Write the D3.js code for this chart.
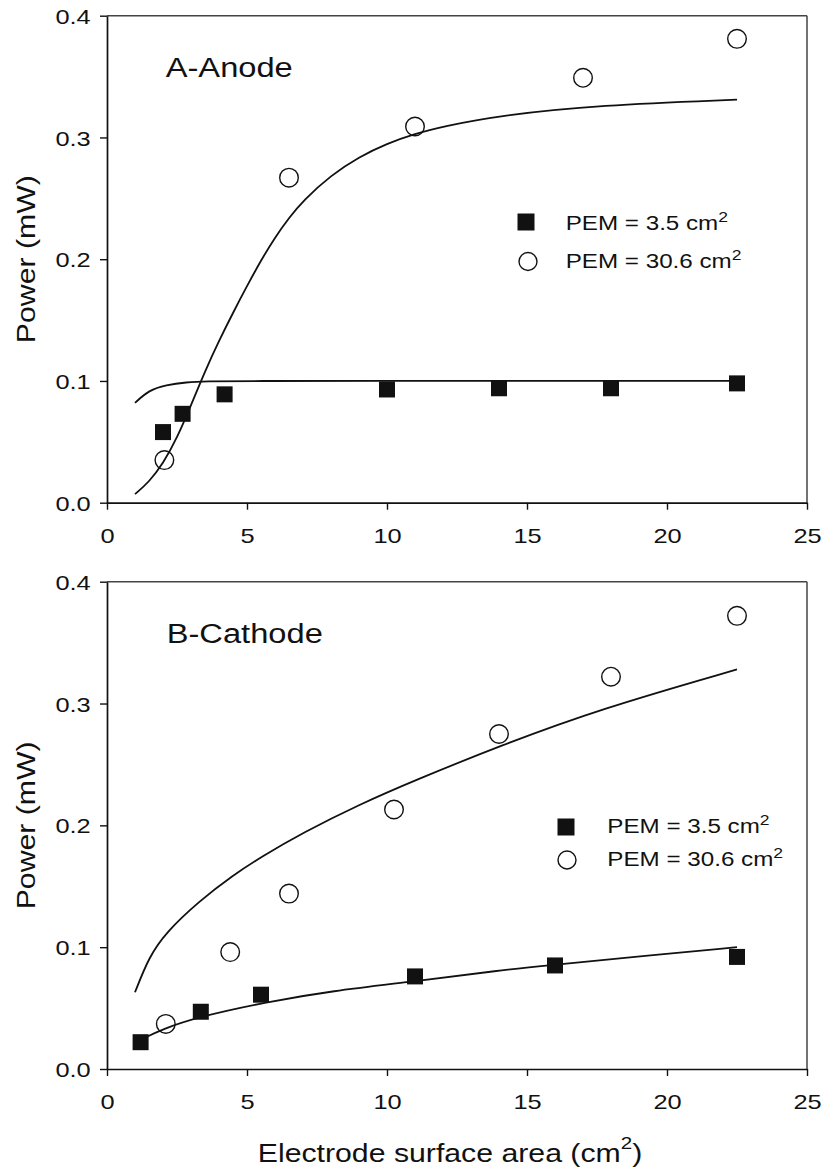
<!DOCTYPE html>
<html>
<head>
<meta charset="utf-8">
<script src="https://cdn.jsdelivr.net/npm/d3@7"></script>
<style>
  html, body { margin: 0; padding: 0; background: #fff; }
  svg { display: block; }
</style>
</head>
<body>
<script>
// ---------- data ----------
const xTicks = [0, 5, 10, 15, 20, 25];
const yTicks = [0.0, 0.1, 0.2, 0.3, 0.4];

// Panel A - Anode
const anodeSmallX = [2.0, 2.7, 4.2, 10, 14, 18, 22.5];
const anodeSmallY = [0.058, 0.073, 0.089, 0.093, 0.094, 0.094, 0.098];
const anodeLargeX = [2.05, 6.5, 11, 17, 22.5];
const anodeLargeY = [0.035, 0.267, 0.309, 0.349, 0.381];
const anodeSmallFitX = [1.0, 1.5, 2.1, 2.85, 3.5, 5, 10, 15, 22.5];
const anodeSmallFitY = [0.082, 0.0925, 0.0967, 0.099, 0.0997, 0.1, 0.1, 0.1, 0.1];
const anodeLargeFitX = [1.0, 1.5, 2.0, 2.5, 3.0, 3.5, 4.0, 4.5, 5.0, 5.5, 6.0, 6.5, 7.0, 8.0, 9.0, 10.0, 11.0, 12.0, 14.0, 17.6, 22.5];
const anodeLargeFitY = [0.007, 0.017, 0.032, 0.053, 0.08, 0.108, 0.133, 0.156, 0.178, 0.199, 0.218, 0.234, 0.248, 0.269, 0.284, 0.295, 0.303, 0.309, 0.318, 0.3266, 0.331];

// Panel B - Cathode
const cathodeSmallX = [1.2, 3.35, 5.5, 11, 16, 22.5];
const cathodeSmallY = [0.022, 0.047, 0.061, 0.076, 0.085, 0.092];
const cathodeLargeX = [2.1, 4.4, 6.5, 10.25, 14, 18, 22.5];
const cathodeLargeY = [0.037, 0.096, 0.144, 0.213, 0.275, 0.322, 0.372];
const cathodeSmallFitX = [1.2, 2.0, 3.3, 5.7, 8.0, 11.0, 14.0, 16.0, 18.8, 22.5];
const cathodeSmallFitY = [0.024, 0.033, 0.043, 0.055, 0.064, 0.072, 0.081, 0.0855, 0.092, 0.1];
const cathodeLargeFitX = [1.0, 1.5, 2.1, 3.3, 4.5, 5.5, 7.0, 9.0, 11.0, 14.0, 17.6, 22.5];
const cathodeLargeFitY = [0.063, 0.092, 0.112, 0.138, 0.159, 0.174, 0.194, 0.217, 0.237, 0.265, 0.2955, 0.328];

const panelTitles = ["A-Anode", "B-Cathode"];
const legendLabels = ["PEM = 3.5 cm", "PEM = 30.6 cm"];
const yLabel = "Power (mW)";
const xLabel = "Electrode surface area (cm";

// ---------- drawing ----------
const W = 823, H = 1168;
const SX = 1.21; // horizontal stretch of glyphs in the reference
const FONT = "'Liberation Sans', Arial, Helvetica, sans-serif";
const INK = "#111";

const svg = d3.select("body").append("svg")
  .attr("width", W).attr("height", H)
  .style("font-family", FONT);

const x = d3.scaleLinear().domain([0, 25]).range([107, 807]);

const panels = [
  {
    top: 15.7, bottom: 502.7, title: panelTitles[0], titlePos: [165.7, 77],
    smallX: anodeSmallX, smallY: anodeSmallY, largeX: anodeLargeX, largeY: anodeLargeY,
    sFitX: anodeSmallFitX, sFitY: anodeSmallFitY, lFitX: anodeLargeFitX, lFitY: anodeLargeFitY,
    legend: { sq: [526, 222], ci: [528, 261.5], tx: 565.7, ty: [230, 268.3] }
  },
  {
    top: 581.7, bottom: 1069, title: panelTitles[1], titlePos: [166.7, 643],
    smallX: cathodeSmallX, smallY: cathodeSmallY, largeX: cathodeLargeX, largeY: cathodeLargeY,
    sFitX: cathodeSmallFitX, sFitY: cathodeSmallFitY, lFitX: cathodeLargeFitX, lFitY: cathodeLargeFitY,
    legend: { sq: [566, 827], ci: [567, 860], tx: 607.3, ty: [833.3, 866] }
  }
];

function stretchedText(parent, px, py, size, anchor, rotate) {
  const t = parent.append("text")
    .attr("transform", `translate(${px},${py})` + (rotate ? ` rotate(${rotate})` : "") + ` scale(${SX},1)`)
    .attr("font-size", size)
    .attr("text-anchor", anchor)
    .attr("fill", INK);
  return t;
}

panels.forEach(p => {
  const y = d3.scaleLinear().domain([0, 0.4]).range([p.bottom, p.top]);
  const g = svg.append("g");

  // frame top & right
  g.append("line").attr("x1", x(0)).attr("x2", x(25)).attr("y1", y(0.4)).attr("y2", y(0.4))
    .attr("stroke", "#444").attr("stroke-width", 1.6);
  g.append("line").attr("x1", x(25)).attr("x2", x(25)).attr("y1", y(0.4)).attr("y2", y(0))
    .attr("stroke", "#444").attr("stroke-width", 1.5);

  // fitted curves
  const line = d3.line().x(d => x(d[0])).y(d => y(d[1])).curve(d3.curveBasis);
  g.append("path").datum(d3.zip(p.sFitX, p.sFitY)).attr("d", line)
    .attr("fill", "none").attr("stroke", INK).attr("stroke-width", 1.8);
  g.append("path").datum(d3.zip(p.lFitX, p.lFitY)).attr("d", line)
    .attr("fill", "none").attr("stroke", INK).attr("stroke-width", 1.8);

  // axes
  const yAxis = g.append("g").attr("transform", `translate(${x(0)},0)`)
    .call(d3.axisLeft(y).tickValues(yTicks).tickSize(7).tickSizeOuter(0).tickFormat(d3.format(".1f")));
  const xAxis = g.append("g").attr("transform", `translate(0,${y(0)})`)
    .call(d3.axisBottom(x).tickValues(xTicks).tickSize(7).tickSizeOuter(0).tickFormat(d3.format("d")));

  [yAxis, xAxis].forEach(a => {
    a.attr("font-family", FONT).attr("font-size", 21);
    a.select(".domain").attr("stroke", INK).attr("stroke-width", 1.7);
    a.selectAll(".tick line").attr("stroke", INK).attr("stroke-width", 1.4);
    a.selectAll(".tick text").attr("fill", INK);
  });
  yAxis.selectAll(".tick text")
    .attr("transform", `scale(${SX},1)`)
    .attr("x", -16.3 / SX).attr("dy", null).attr("y", 7.6)
    .attr("text-anchor", "end");
  xAxis.selectAll(".tick text")
    .attr("transform", `scale(${SX},1)`)
    .attr("x", 0).attr("dy", null).attr("y", 40)
    .attr("text-anchor", "middle");

  // markers
  g.selectAll("rect.sq").data(d3.zip(p.smallX, p.smallY)).join("rect")
    .attr("class", "sq")
    .attr("x", d => x(d[0]) - 8).attr("y", d => y(d[1]) - 8)
    .attr("width", 16).attr("height", 16).attr("fill", INK);
  g.selectAll("circle.ci").data(d3.zip(p.largeX, p.largeY)).join("circle")
    .attr("class", "ci")
    .attr("cx", d => x(d[0])).attr("cy", d => y(d[1])).attr("r", 9.3)
    .attr("fill", "none").attr("stroke", INK).attr("stroke-width", 1.4);

  // title
  stretchedText(g, p.titlePos[0], p.titlePos[1], 27, "start").text(p.title);

  // legend
  g.append("rect").attr("x", p.legend.sq[0] - 8.5).attr("y", p.legend.sq[1] - 8.5)
    .attr("width", 17).attr("height", 17).attr("fill", INK);
  g.append("circle").attr("cx", p.legend.ci[0]).attr("cy", p.legend.ci[1]).attr("r", 9)
    .attr("fill", "none").attr("stroke", INK).attr("stroke-width", 1.4);
  legendLabels.forEach((lab, i) => {
    const t = stretchedText(g, p.legend.tx, p.legend.ty[i], 20, "start");
    t.append("tspan").text(lab);
    t.append("tspan").attr("font-size", 14.5).attr("dy", -8.5).text("2");
  });

  // y label
  stretchedText(g, 35, (p.top + p.bottom) / 2, 25, "middle", -90).text(yLabel);
});

// x label
const xl = stretchedText(svg, 450, 1162, 25, "middle");
xl.append("tspan").text(xLabel);
xl.append("tspan").attr("font-size", 17).attr("dy", -13).text("2");
xl.append("tspan").attr("dy", 13).text(")");
</script>
</body>
</html>
